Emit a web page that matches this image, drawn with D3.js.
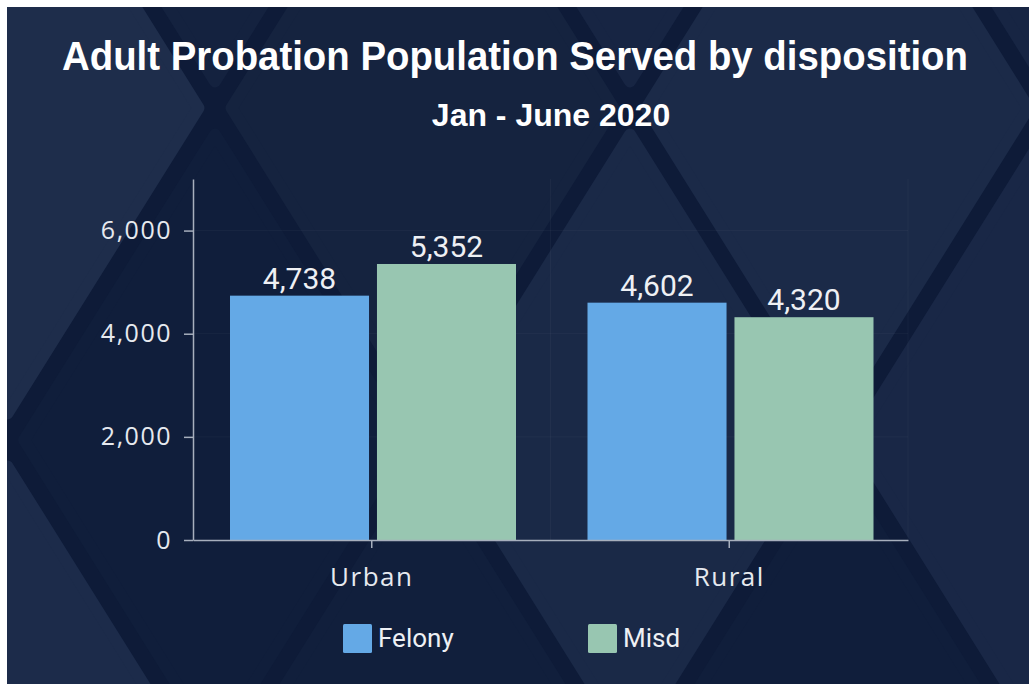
<!DOCTYPE html>
<html>
<head>
<meta charset="utf-8">
<script src="https://cdn.jsdelivr.net/npm/d3@7"></script>
<style>
  html, body { margin: 0; padding: 0; background: #ffffff; }
  svg { display: block; }
</style>
</head>
<body>
<svg id="chart" width="1029" height="684"></svg>
<script>
// ---- data ----
const categories = ["Urban", "Rural"];
const seriesNames = ["Felony", "Misd"];
const felony = [4738, 4602];
const misd = [5352, 4320];
const yTickValues = [0, 2000, 4000, 6000];
const yMax = 7000;
const seriesColors = ["#64a9e6", "#98c6b1"];
const titleText = "Adult Probation Population Served by disposition";
const subtitleText = "Jan - June 2020";

const seriesValues = [felony, misd];
const rows = categories.map((c, i) => ({
  category: c,
  values: seriesNames.map((s, j) => ({ series: s, value: seriesValues[j][i] }))
}));

const W = 1029, H = 684;
const svg = d3.select("#chart");

// ---- background panel with diamond lattice ----
const bgX = 7, bgY = 7;
svg.append("rect").attr("x", 0).attr("y", 0).attr("width", W).attr("height", H).attr("fill", "#ffffff");
const clip = svg.append("defs").append("clipPath").attr("id", "bgclip");
clip.append("rect").attr("x", bgX).attr("y", bgY).attr("width", W - bgX).attr("height", H - bgY);
const bg = svg.append("g").attr("clip-path", "url(#bgclip)");
bg.append("rect").attr("x", bgX).attr("y", bgY).attr("width", W - bgX).attr("height", H - bgY).attr("fill", "#0e1b38");

const hx = 207.5, hy = 332, ox = 7.5, oy = 108;
const diamonds = [
  { k: 0, m: 0, c: "#1e2d4b" },
  { k: 2, m: 0, c: "#15233f" },
  { k: 4, m: 0, c: "#1b2a48" },
  { k: 6, m: 0, c: "#1a2846" },
  { k: 1, m: -1, c: "#14223f" },
  { k: 3, m: -1, c: "#172543" },
  { k: 5, m: -1, c: "#172543" },
  { k: -1, m: 1, c: "#1a2948" },
  { k: 1, m: 1, c: "#101e3b" },
  { k: 3, m: 1, c: "#1a2947" },
  { k: 5, m: 1, c: "#192746" },
  { k: 0, m: 2, c: "#1c2b4a" },
  { k: 2, m: 2, c: "#111f3c" },
  { k: 4, m: 2, c: "#101e3b" },
  { k: 6, m: 2, c: "#13213f" }
];
const s = 0.92;
bg.selectAll("path.dia").data(diamonds).join("path")
  .attr("class", "dia")
  .attr("d", d => {
    const cx = ox + d.k * hx, cy = oy + d.m * hy;
    return `M${cx},${cy - hy * s}L${cx + hx * s},${cy}L${cx},${cy + hy * s}L${cx - hx * s},${cy}Z`;
  })
  .attr("fill", d => d.c)
  .attr("stroke", d => d.c)
  .attr("stroke-width", 12)
  .attr("stroke-linejoin", "round");

// ---- scales ----
const plotLeft = 193, plotRight = 908, plotTop = 179, plotBottom = 540;
const x0 = d3.scaleBand().domain(categories).range([plotLeft, plotRight]).paddingInner(0).paddingOuter(0);
const bw = x0.bandwidth();
const x1 = d3.scaleBand().domain(seriesNames).range([bw * 0.1035, bw * 0.9035]).paddingInner(0.054);
const y = d3.scaleLinear().domain([0, yMax]).range([plotBottom, plotTop]);
const color = d3.scaleOrdinal().domain(seriesNames).range(seriesColors);

// ---- faint grid ----
const grid = svg.append("g");
grid.selectAll("line.h").data(yTickValues.filter(v => v > 0)).join("line")
  .attr("x1", plotLeft).attr("x2", plotRight)
  .attr("y1", d => y(d)).attr("y2", d => y(d))
  .attr("stroke", "rgba(255,255,255,0.035)").attr("stroke-width", 1);
grid.selectAll("line.v").data(categories.slice(1).map(c => x0(c)).concat([plotRight])).join("line")
  .attr("x1", d => d).attr("x2", d => d)
  .attr("y1", plotTop).attr("y2", plotBottom)
  .attr("stroke", "rgba(255,255,255,0.035)").attr("stroke-width", 1);

// ---- bars ----
const groups = svg.append("g").selectAll("g").data(rows).join("g")
  .attr("transform", d => `translate(${x0(d.category)},0)`);
groups.selectAll("rect").data(d => d.values).join("rect")
  .attr("x", d => x1(d.series))
  .attr("width", x1.bandwidth())
  .attr("y", d => y(d.value))
  .attr("height", d => y(0) - y(d.value))
  .attr("fill", d => color(d.series));
groups.selectAll("text").data(d => d.values).join("text")
  .attr("x", d => x1(d.series) + x1.bandwidth() / 2)
  .attr("y", d => y(d.value) - 7)
  .attr("text-anchor", "middle")
  .attr("font-family", "Roboto, sans-serif")
  .attr("font-size", 30)
  .attr("fill", "#eef0f4")
  .text(d => d3.format(",")(d.value));

// ---- axes ----
const axisColor = "#a7afbd";
const yAxis = svg.append("g").attr("transform", `translate(${plotLeft},0)`)
  .call(d3.axisLeft(y).tickValues(yTickValues).tickFormat(d3.format(",")).tickSize(9).tickSizeOuter(0).tickPadding(12));
const xAxis = svg.append("g").attr("transform", `translate(0,${plotBottom})`)
  .call(d3.axisBottom(x0).tickSize(8).tickSizeOuter(0).tickPadding(20));
[yAxis, xAxis].forEach(a => {
  a.select(".domain").attr("stroke", axisColor).attr("stroke-width", 1.5);
  a.selectAll(".tick line").attr("stroke", axisColor).attr("stroke-width", 1.5);
  a.selectAll(".tick text")
    .attr("fill", "#e6e9ef")
    .attr("font-family", "'Open Sans', sans-serif")
    .attr("font-weight", 400)
    .attr("font-size", 25)
    .attr("letter-spacing", "1.5px");
});
xAxis.selectAll(".tick text").attr("font-size", 26);

// ---- titles ----
svg.append("text")
  .attr("x", 515).attr("y", 70)
  .attr("text-anchor", "middle")
  .attr("font-family", "'Liberation Sans', Arial, sans-serif")
  .attr("font-weight", "bold")
  .attr("font-size", 41)
  .attr("textLength", 906)
  .attr("lengthAdjust", "spacingAndGlyphs")
  .attr("fill", "#ffffff")
  .text(titleText);
svg.append("text")
  .attr("x", 551).attr("y", 126)
  .attr("text-anchor", "middle")
  .attr("font-family", "'Liberation Sans', Arial, sans-serif")
  .attr("font-weight", "bold")
  .attr("font-size", 32)
  .attr("fill", "#ffffff")
  .text(subtitleText);

// ---- legend ----
const legendX = [343, 588];
const legend = svg.append("g").selectAll("g").data(seriesNames).join("g")
  .attr("transform", (d, i) => `translate(${legendX[i]},624)`);
legend.append("rect").attr("width", 29).attr("height", 29).attr("rx", 1.5).attr("fill", d => color(d));
legend.append("text")
  .attr("x", 35).attr("y", 23)
  .attr("font-family", "Roboto, sans-serif")
  .attr("font-size", 26)
  .attr("fill", "#eef0f4")
  .text(d => d);
</script>
</body>
</html>
